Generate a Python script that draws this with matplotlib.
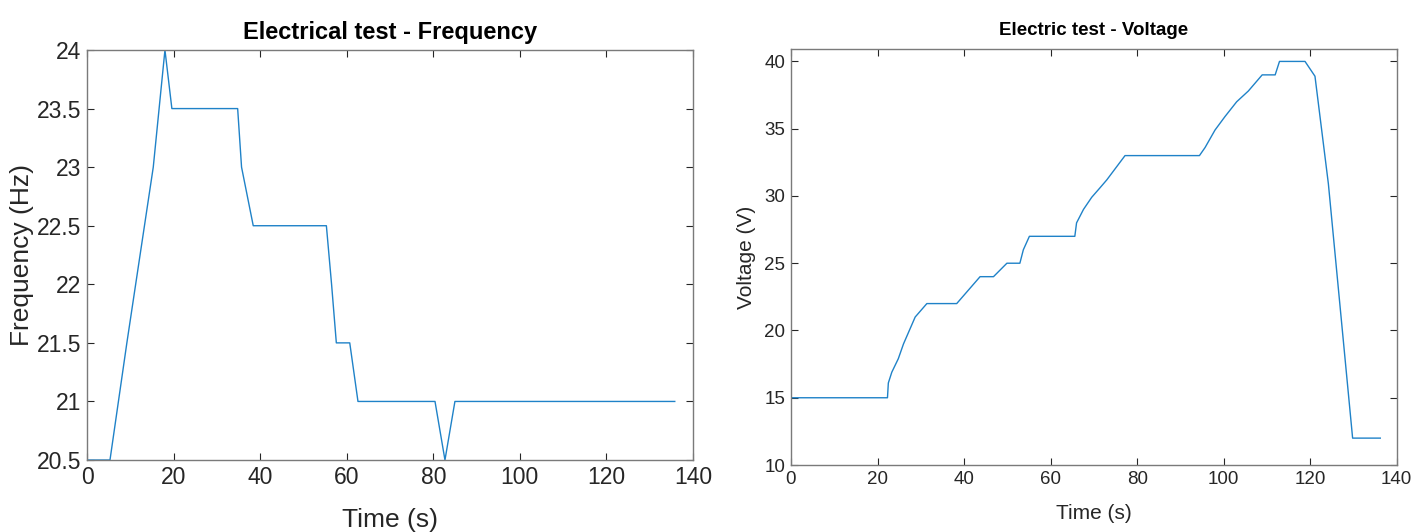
import matplotlib
matplotlib.use("Agg")
import matplotlib.pyplot as plt
from matplotlib import font_manager

# ---- data ----
freq_time = [0, 5.3, 9.2, 15.3, 18.0, 19.6, 34.8, 35.7, 38.4, 55.3, 56.5, 57.6,
             60.7, 62.6, 80.4, 82.7, 85.0, 135.8]
freq_hz = [20.5, 20.5, 21.5, 23.0, 24.0, 23.5, 23.5, 23.0, 22.5, 22.5, 22.0, 21.5,
           21.5, 21.0, 21.0, 20.5, 21.0, 21.0]

volt_time = [0, 22.3, 22.5, 23.3, 24.8, 26.0, 28.7, 31.4, 38.3, 43.7, 46.8, 49.9, 52.9,
             53.7, 55.1, 65.6, 66.0, 67.6, 69.5, 71.4, 73.0, 77.2, 94.4, 95.7, 98.0,
             100.3, 103.0, 105.7, 108.9, 111.9, 112.9, 118.8, 121.1, 124.2, 129.8, 136.2]
volt_v = [15, 15, 16.1, 16.9, 17.9, 19.0, 21.0, 22.0, 22.0, 24.0, 24.0, 25.0, 25.0,
          26.0, 27.0, 27.0, 28.0, 29.0, 29.9, 30.6, 31.2, 33.0, 33.0, 33.6, 34.9,
          35.9, 37.0, 37.8, 39.0, 39.0, 40.0, 40.0, 38.9, 30.9, 12.0, 12.0]

freq_yticks = [20.5, 21, 21.5, 22, 22.5, 23, 23.5, 24]
freq_yticklabels = ["20.5", "21", "21.5", "22", "22.5", "23", "23.5", "24"]
volt_yticks = [10, 15, 20, 25, 30, 35, 40]
time_xticks = [0, 20, 40, 60, 80, 100, 120, 140]

# ---- style ----
names = {f.name for f in font_manager.fontManager.ttflist}
fam = ["Liberation Sans Narrow", "Liberation Sans", "DejaVu Sans"]
fam = [f for f in fam if f in names] or ["DejaVu Sans"]
plt.rcParams["font.family"] = fam

LINE = "#1f82c8"
AX = "#7a7a7a"
TXT = "#262626"

fig = plt.figure(figsize=(14.27, 5.32), dpi=100)
ax1 = fig.add_axes([0.061, 0.1353, 0.4246, 0.7707])
ax2 = fig.add_axes([0.5543, 0.1259, 0.4245, 0.7814])


def style(ax, tick_fs):
    for s in ax.spines.values():
        s.set_color(AX)
        s.set_linewidth(1.0)
    ax.tick_params(direction="in", top=True, right=True, length=5, width=0.8,
                   color=TXT, labelcolor=TXT, labelsize=tick_fs, pad=4)


ax1.plot(freq_time, freq_hz, color=LINE, lw=1.0)
ax1.set_xlim(0, 140)
ax1.set_ylim(20.5, 24)
ax1.set_xticks(time_xticks)
ax1.set_yticks(freq_yticks)
ax1.set_yticklabels(freq_yticklabels)
style(ax1, 16.5)
ax1.set_xlabel("Time (s)", fontsize=19, color=TXT, labelpad=14)
ax1.set_ylabel("Frequency (Hz)", fontsize=19, color=TXT, labelpad=2)
ax1.set_title("Electrical test - Frequency", fontsize=17, fontweight="bold", pad=8)

ax2.plot(volt_time, volt_v, color=LINE, lw=1.0)
ax2.set_xlim(0, 140)
ax2.set_ylim(10, 40.9)
ax2.set_xticks(time_xticks)
ax2.set_yticks(volt_yticks)
style(ax2, 13.5)
ax2.set_xlabel("Time (s)", fontsize=15, color=TXT, labelpad=12)
ax2.set_ylabel("Voltage (V)", fontsize=15, color=TXT, labelpad=6)
ax2.set_title("Electric test - Voltage", fontsize=13.5, fontweight="bold", pad=10)

fig.savefig("out.png", dpi=100, facecolor="white")
